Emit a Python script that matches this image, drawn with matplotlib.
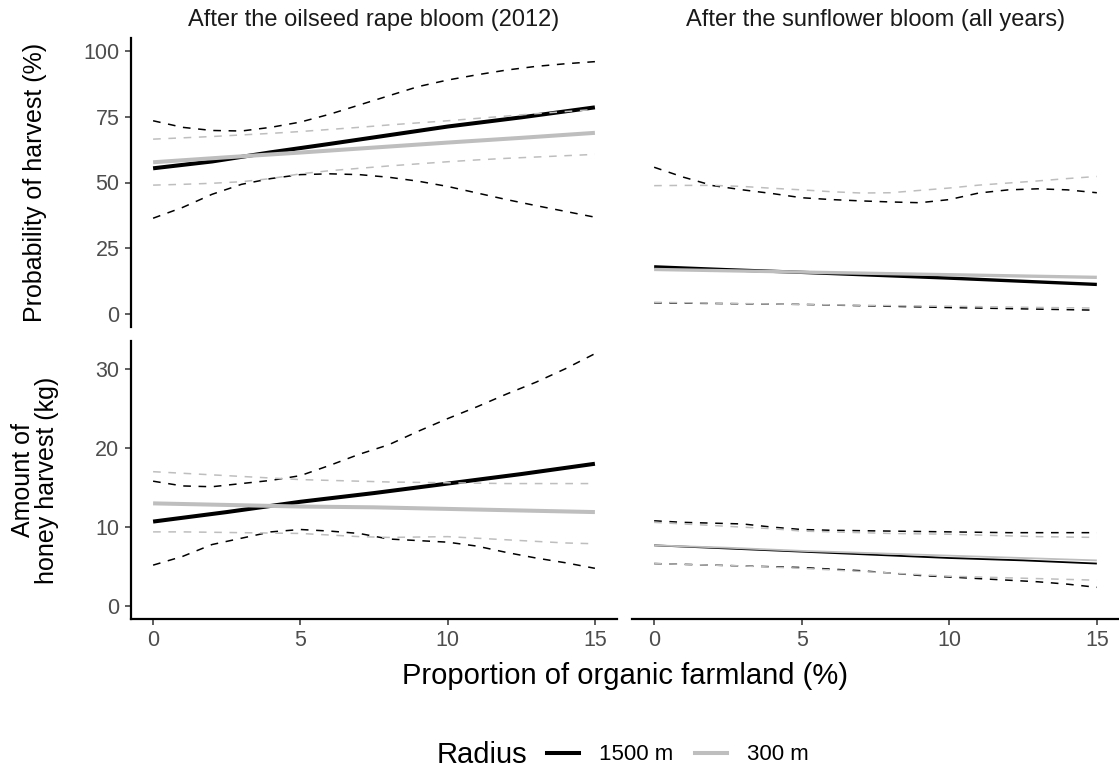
"""
Predicted honey harvest vs. proportion of organic farmland,
two landscape radii, with confidence bands (dashed).
"""

import matplotlib.pyplot as plt
from matplotlib.lines import Line2D

plt.rcParams["font.family"] = ["Liberation Sans", "DejaVu Sans"]

X = list(range(16))
XS = [0, 2.5, 5, 7.5, 10, 12.5, 15]

# --- probability of harvest, oilseed rape bloom (2012) ---
rape_prob_1500 = [55.4, 58.0, 61.5, 64.7, 68.0, 71.3, 74.8, 78.6]
rape_prob_1500_x = [0, 2, 4, 6, 8, 10, 12.5, 15]
rape_prob_1500_hi = [73.5, 71.0, 69.8, 69.6, 71.0, 73.0, 76.0, 79.5,
                     83.0, 86.5, 89.0, 91.0, 92.8, 94.2, 95.2, 96.0]
rape_prob_1500_lo = [36.4, 40.5, 45.5, 49.3, 51.5, 53.0, 53.3, 53.0,
                     52.0, 50.5, 48.5, 46.0, 43.5, 41.2, 39.0, 36.8]
rape_prob_300 = [57.7, 59.6, 61.4, 63.3, 65.2, 67.0, 68.9]
rape_prob_300_hi = [66.5, 67.0, 67.5, 68.1, 68.7, 69.4, 70.2, 71.0,
                    71.9, 72.7, 73.5, 74.4, 75.3, 76.2, 77.0, 77.8]
rape_prob_300_lo = [49.0, 49.3, 49.7, 50.3, 51.5, 53.3, 54.5, 55.4,
                    56.3, 57.1, 57.9, 58.6, 59.2, 59.7, 60.2, 60.7]

# --- probability of harvest, sunflower bloom (all years) ---
sun_prob_1500 = [17.9, 16.8, 15.8, 14.7, 13.6, 12.4, 11.2]
sun_prob_1500_hi = [55.8, 52.0, 48.8, 47.2, 45.8, 44.2, 43.5, 43.0,
                    42.6, 42.3, 43.5, 46.0, 47.2, 47.6, 47.2, 46.1]
sun_prob_1500_lo = [4.2, 3.9, 3.6, 3.0, 2.4, 1.9, 1.4]
sun_prob_300 = [16.9, 16.4, 15.9, 15.4, 14.9, 14.4, 13.9]
sun_prob_300_hi = [48.8, 48.9, 48.9, 48.5, 47.8, 47.2, 46.5, 46.0,
                   46.1, 47.0, 47.9, 49.0, 49.8, 50.6, 51.5, 52.3]
sun_prob_300_lo = [4.4, 4.0, 3.6, 3.2, 2.9, 2.5, 2.2]

# --- amount of honey harvest (kg), oilseed rape bloom ---
rape_kg_1500 = [10.7, 11.9, 13.2, 14.3, 15.5, 16.7, 18.0]
rape_kg_1500_hi = [15.8, 15.2, 15.1, 15.5, 15.9, 16.5, 17.8, 19.2,
                   20.4, 22.1, 23.7, 25.2, 26.8, 28.3, 30.0, 31.9]
rape_kg_1500_lo = [5.2, 6.3, 7.8, 8.6, 9.4, 9.7, 9.5, 9.2,
                   8.5, 8.3, 8.1, 7.6, 6.8, 6.1, 5.5, 4.8]
rape_kg_300 = [13.0, 12.8, 12.6, 12.5, 12.3, 12.1, 11.9]
rape_kg_300_hi = [17.0, 16.8, 16.6, 16.4, 16.2, 16.0, 15.9, 15.8,
                  15.7, 15.65, 15.6, 15.55, 15.5, 15.5, 15.5, 15.5]
rape_kg_300_lo = [9.4, 9.4, 9.35, 9.3, 9.25, 9.2, 9.0, 8.8,
                  8.7, 8.75, 8.8, 8.6, 8.4, 8.2, 8.0, 7.9]

# --- amount of honey harvest (kg), sunflower bloom ---
sun_kg_1500 = [7.7, 7.3, 6.9, 6.5, 6.1, 5.8, 5.4]
sun_kg_1500_hi = [10.8, 10.6, 10.5, 10.4, 10.0, 9.7, 9.6, 9.55,
                  9.5, 9.45, 9.4, 9.35, 9.3, 9.3, 9.3, 9.3]
sun_kg_1500_lo = [5.4, 5.3, 5.2, 5.1, 5.0, 4.9, 4.7, 4.5,
                  4.2, 3.9, 3.7, 3.5, 3.3, 3.1, 2.8, 2.4]
sun_kg_300 = [7.7, 7.4, 7.0, 6.7, 6.4, 6.1, 5.8]
sun_kg_300_hi = [10.6, 10.4, 10.2, 10.0, 9.8, 9.5, 9.4, 9.3,
                 9.2, 9.15, 9.1, 9.0, 8.9, 8.8, 8.75, 8.7]
sun_kg_300_lo = [5.4, 5.3, 5.2, 5.1, 4.95, 4.8, 4.6, 4.4,
                 4.2, 4.0, 3.8, 3.7, 3.6, 3.5, 3.4, 3.3]

BLACK = "black"
GREY = "#BEBEBE"
DASH = (0, (5, 5))
TICK_COL = "#4D4D4D"

W, H = 1119, 771
fig = plt.figure(figsize=(W / 100, H / 100), dpi=100)


def panel(x0, y0, x1, y1):
    return fig.add_axes([x0 / W, 1 - y1 / H, (x1 - x0) / W, (y1 - y0) / H])


def style(ax, left, bottom, ylim, yticks):
    ax.set_xlim(-0.75, 15.75)
    ax.set_ylim(*ylim)
    for s in ax.spines.values():
        s.set_visible(False)
    ax.tick_params(colors="#333333", labelcolor=TICK_COL, labelsize=15.5,
                   width=1.1, length=4.3)
    ax.tick_params(axis="x", pad=3.5)
    ax.tick_params(axis="y", pad=4)
    if left:
        ax.spines["left"].set_visible(True)
        ax.spines["left"].set_linewidth(1.6)
        ax.set_yticks(yticks)
    else:
        ax.set_yticks([])
    if bottom:
        ax.spines["bottom"].set_visible(True)
        ax.spines["bottom"].set_linewidth(1.6)
        ax.set_xticks([0, 5, 10, 15])
    else:
        ax.set_xticks([])


def draw(ax, xs_1500, m1500, hi1500, lo1500, xs_lo1500,
         m300, hi300, lo300, xs_lo300, lw_main=2.9):
    ax.plot(X, hi1500, color=BLACK, lw=1.1, ls=DASH)
    ax.plot(xs_lo1500, lo1500, color=BLACK, lw=1.1, ls=DASH)
    ax.plot(xs_1500, m1500, color=BLACK, lw=lw_main, solid_capstyle="butt")
    ax.plot(X, hi300, color=GREY, lw=1.1, ls=DASH)
    ax.plot(xs_lo300, lo300, color=GREY, lw=1.1, ls=DASH)
    ax.plot(XS, m300, color=GREY, lw=lw_main, solid_capstyle="butt")


ax_tl = panel(131, 38, 617, 327)
ax_tr = panel(632, 38, 1119, 327)
ax_bl = panel(131, 341, 617, 619)
ax_br = panel(632, 341, 1119, 619)

draw(ax_tl, rape_prob_1500_x, rape_prob_1500, rape_prob_1500_hi,
     rape_prob_1500_lo, X, rape_prob_300, rape_prob_300_hi,
     rape_prob_300_lo, X)
draw(ax_tr, XS, sun_prob_1500, sun_prob_1500_hi, sun_prob_1500_lo, XS,
     sun_prob_300, sun_prob_300_hi, sun_prob_300_lo, XS, lw_main=2.4)
draw(ax_bl, XS, rape_kg_1500, rape_kg_1500_hi, rape_kg_1500_lo, X,
     rape_kg_300, rape_kg_300_hi, rape_kg_300_lo, X)
draw(ax_br, XS, sun_kg_1500, sun_kg_1500_hi, sun_kg_1500_lo, X,
     sun_kg_300, sun_kg_300_hi, sun_kg_300_lo, X, lw_main=1.3)

prob_ticks = [0, 25, 50, 75, 100]
kg_ticks = [0, 10, 20, 30]
style(ax_tl, True, False, (-5, 105), prob_ticks)
style(ax_tr, False, False, (-5, 105), prob_ticks)
style(ax_bl, True, True, (-1.6, 33.5), kg_ticks)
style(ax_br, False, True, (-1.6, 33.5), kg_ticks)

# facet strip titles
for ax, title in [(ax_tl, "After the oilseed rape bloom (2012)"),
                  (ax_tr, "After the sunflower bloom (all years)")]:
    ax.text(0.5, 1.064, title, transform=ax.transAxes, fontsize=17,
            ha="center", va="center", color="#1A1A1A")

ax_tl.set_ylabel("Probability of harvest (%)", fontsize=18, va="center")
ax_tl.yaxis.set_label_coords(-0.198, 0.5)
ax_bl.set_ylabel("Amount of\nhoney harvest (kg)", fontsize=18, va="center",
                 linespacing=1.02)
ax_bl.yaxis.set_label_coords(-0.198, 0.5)

fig.text(625 / W, 1 - 676 / H, "Proportion of organic farmland (%)",
         fontsize=21, ha="center", va="center")

# legend along the bottom
fig.text(437 / W, 1 - 755 / H, "Radius", fontsize=21, ha="left", va="center")
handles = [Line2D([], [], color=BLACK, lw=2.9),
           Line2D([], [], color=GREY, lw=2.9)]
fig.legend(handles, ["1500 m", "300 m"], ncol=2, frameon=False,
           loc="center left", bbox_to_anchor=(547 / W, 1 - 755 / H),
           fontsize=16, handlelength=1.45, handletextpad=0.9,
           columnspacing=0.95, borderpad=0, borderaxespad=0)

fig.savefig("out.png", dpi=100)
